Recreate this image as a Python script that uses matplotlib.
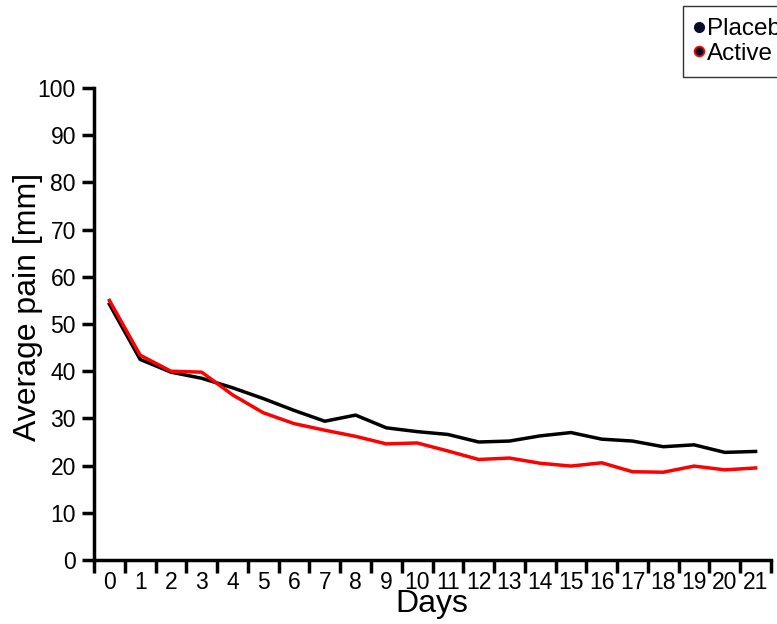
import matplotlib.pyplot as plt
from matplotlib.lines import Line2D

plt.rcParams['font.family'] = ['Liberation Sans', 'DejaVu Sans']

days = list(range(22))
placebo = [54.2, 42.5, 39.8, 38.5, 36.5, 34.2, 31.7, 29.4, 30.7, 28.0, 27.2,
           26.6, 25.0, 25.2, 26.3, 27.0, 25.6, 25.2, 24.0, 24.4, 22.8, 23.0]
active = [55.0, 43.4, 40.0, 39.8, 35.0, 31.2, 28.9, 27.5, 26.2, 24.6, 24.8,
          23.1, 21.3, 21.6, 20.5, 19.9, 20.6, 18.7, 18.6, 19.9, 19.1, 19.5]

fig = plt.figure(figsize=(7.77, 6.24), dpi=100)
ax = fig.add_axes([94 / 777, 1 - 560 / 624, (771 - 94) / 777, (560 - 88) / 624])

ax.plot(days, placebo, color='black', lw=2.5)
ax.plot(days, active, color='red', lw=2.5)

ax.set_xlim(-0.5, 21.5)
ax.set_ylim(0, 100)
ax.set_yticks(range(0, 101, 10))
ax.set_xticks(days)
# ticks sit on the category boundaries, labels in the middle
ax.set_xticks([d - 0.5 for d in days] + [21.5], minor=True)
ax.tick_params(axis='x', which='major', length=0, labelsize=16.5, pad=8)
ax.tick_params(axis='x', which='minor', length=9, width=2.5, direction='out')
ax.tick_params(axis='y', length=9, width=2.5, labelsize=16.5, pad=4)

for side in ['top', 'right']:
    ax.spines[side].set_visible(False)
for side in ['left', 'bottom']:
    ax.spines[side].set_linewidth(2.5)

ax.set_xlabel('Days', fontsize=23)
ax.set_ylabel('Average pain [mm]', fontsize=23)
ax.xaxis.set_label_coords(0.499, -0.062)
ax.yaxis.set_label_coords(-0.075, 0.536)

handles = [
    Line2D([], [], ls='none', marker='o', ms=7, mfc='#0a0a2a', mec='#0a0a2a'),
    Line2D([], [], ls='none', marker='o', ms=7, mfc='#0a0a2a', mec='red', mew=1.3),
]
leg = fig.legend(handles, ['Placebo', 'Active'], loc='upper left',
                 bbox_to_anchor=(683 / 777, 1 - 6 / 624), fontsize=17.5,
                 frameon=True, fancybox=False, edgecolor='black',
                 handlelength=0.35, handletextpad=0.15, borderpad=0.5,
                 labelspacing=0.1, borderaxespad=0)
leg.get_frame().set_linewidth(1)

fig.savefig('out.png', dpi=100)
